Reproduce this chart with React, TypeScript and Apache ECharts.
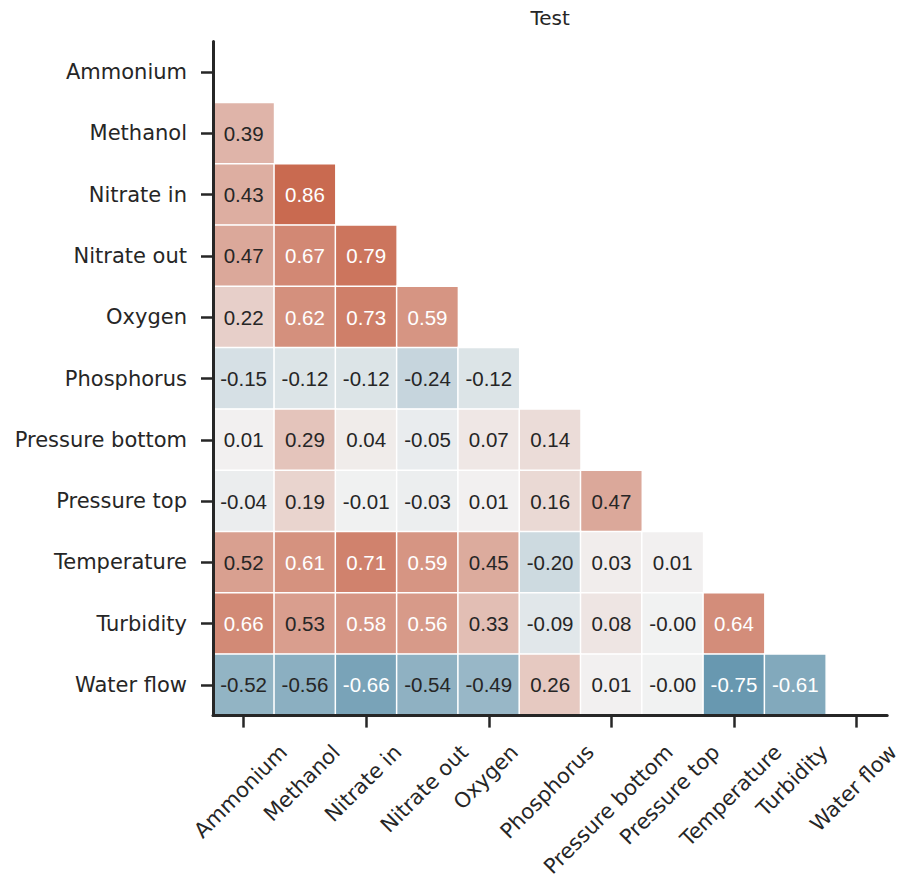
import React, { useEffect, useRef } from "react";
import * as echarts from "echarts";

// ---- data ----
const variables = [
  "Ammonium",
  "Methanol",
  "Nitrate in",
  "Nitrate out",
  "Oxygen",
  "Phosphorus",
  "Pressure bottom",
  "Pressure top",
  "Temperature",
  "Turbidity",
  "Water flow",
];

const rowAmmonium: number[] = [];
const rowMethanol = [0.39];
const rowNitrateIn = [0.43, 0.86];
const rowNitrateOut = [0.47, 0.67, 0.79];
const rowOxygen = [0.22, 0.62, 0.73, 0.59];
const rowPhosphorus = [-0.15, -0.12, -0.12, -0.24, -0.12];
const rowPressureBottom = [0.01, 0.29, 0.04, -0.05, 0.07, 0.14];
const rowPressureTop = [-0.04, 0.19, -0.01, -0.03, 0.01, 0.16, 0.47];
const rowTemperature = [0.52, 0.61, 0.71, 0.59, 0.45, -0.2, 0.03, 0.01];
const rowTurbidity = [0.66, 0.53, 0.58, 0.56, 0.33, -0.09, 0.08, -0.003, 0.64];
const rowWaterFlow = [-0.52, -0.56, -0.66, -0.54, -0.49, 0.26, 0.01, -0.003, -0.75, -0.61];

const lowerTriangle = [
  rowAmmonium,
  rowMethanol,
  rowNitrateIn,
  rowNitrateOut,
  rowOxygen,
  rowPhosphorus,
  rowPressureBottom,
  rowPressureTop,
  rowTemperature,
  rowTurbidity,
  rowWaterFlow,
];

const TITLE = "Test";

// ---- style ----
const NEG = "#3a7a9a";
const MID = "#f2f2f2";
const POS = "#c25436";
const INK = "#262626";
const GRID_LEFT = 213;
const GRID_TOP = 41.4;
const GRID_SIZE = 674.2;
const TICK_FONT = "21px 'DejaVu Sans'";

export default function App() {
  const ref = useRef<HTMLDivElement>(null);

  useEffect(() => {
    const el = ref.current!;
    const chart = echarts.init(el, null, { renderer: "svg" });

    const data: any[] = [];
    lowerTriangle.forEach((row, i) =>
      row.forEach((v, j) => {
        const white = v >= 0.555 || v <= -0.58;
        data.push({
          value: [j, i, v],
          label: { color: white ? "#ffffff" : INK },
        });
      })
    );

    const axisCommon = {
      type: "category",
      data: variables,
      z: 10,
      axisLine: { show: true, lineStyle: { color: INK, width: 3 } },
      axisTick: {
        show: true,
        alignWithLabel: true,
        length: 12,
        lineStyle: { color: INK, width: 2.5 },
      },
      splitLine: { show: false },
      splitArea: { show: false },
    };

    chart.setOption({
      animation: false,
      grid: {
        left: GRID_LEFT,
        top: GRID_TOP,
        width: GRID_SIZE,
        height: GRID_SIZE,
        containLabel: false,
      },
      xAxis: {
        ...axisCommon,
        position: "bottom",
        axisLabel: { show: false },
      },
      yAxis: {
        ...axisCommon,
        inverse: true,
        axisLabel: {
          margin: 26,
          fontSize: 21,
          fontFamily: "DejaVu Sans",
          color: INK,
        },
      },
      visualMap: {
        show: false,
        min: -1,
        max: 1,
        dimension: 2,
        inRange: { color: [NEG, MID, POS] },
      },
      series: [
        {
          type: "heatmap",
          z: 2,
          data,
          itemStyle: { borderColor: "#ffffff", borderWidth: 1.5 },
          label: {
            show: true,
            formatter: (p: any) => p.value[2].toFixed(2),
            fontSize: 20.5,
            fontFamily: "Liberation Sans",
          },
          emphasis: { disabled: true },
        },
      ],
    });

    // rotated x labels, centred on ticks (matplotlib style)
    const canvas = document.createElement("canvas");
    const ctx = canvas.getContext("2d")!;
    ctx.font = TICK_FONT;
    const bottom = GRID_TOP + GRID_SIZE;
    const lineH = 24.4;
    const labels = variables.map((name) => {
      const x = chart.convertToPixel({ xAxisIndex: 0 }, name) as number;
      const w = ctx.measureText(name).width;
      const half = ((w + lineH) * Math.SQRT1_2) / 2;
      return {
        type: "text",
        x: x - 3,
        y: bottom + 24.4 + half,
        rotation: Math.PI / 4,
        silent: true,
        style: {
          text: name,
          fill: INK,
          fontSize: 21,
          fontFamily: "DejaVu Sans",
          align: "center",
          verticalAlign: "middle",
        },
      };
    });
    const x0 = chart.convertToPixel({ xAxisIndex: 0 }, variables[0]) as number;
    const x1 = chart.convertToPixel(
      { xAxisIndex: 0 },
      variables[variables.length - 1]
    ) as number;
    const title = {
      type: "text",
      x: (x0 + x1) / 2,
      y: 18,
      silent: true,
      style: {
        text: TITLE,
        fill: INK,
        fontSize: 20,
        fontFamily: "DejaVu Sans",
        align: "center",
        verticalAlign: "middle",
      },
    };
    chart.setOption({ graphic: [title, ...labels] });

    return () => chart.dispose();
  }, []);

  return (
    <div
      ref={ref}
      style={{ position: "absolute", left: 0, top: 0, width: 902, height: 878 }}
    />
  );
}
